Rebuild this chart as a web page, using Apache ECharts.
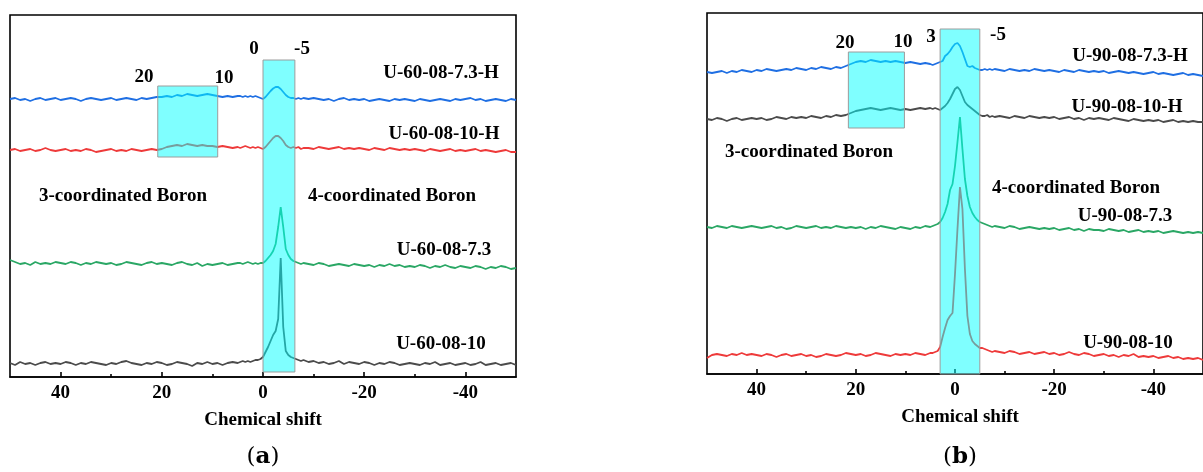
<!DOCTYPE html>
<html>
<head>
<meta charset="utf-8">
<script src="https://cdn.jsdelivr.net/npm/echarts@6/dist/echarts.min.js"></script>
<style>
html,body{margin:0;padding:0;background:#fff;}
#chart{width:1203px;height:472px;}
</style>
</head>
<body>
<div id="chart"></div>
<script>
// Chemical shift (ppm) sample positions, shared by all spectra
const shifts = [
  50,49,48,47,46,45,44,43,42,41,
  40,39,38,37,36,35,34,33,32,31,
  30,29,28,27,26,25,24,23,22,21,
  20,19,18,17,16,15,14,13,12,11,
  10,9,8,7,6,5,
  4.5,4,3.5,3,2.5,2,1.5,1,0.5,0,
  -0.5,-1,-1.5,-2,-2.5,-3,-3.5,-4,-4.5,-5,
  -5.5,-6,-6.5,-7,-7.5,-8,
  -9,-10,-11,-12,-13,-14,-15,-16,-17,-18,
  -19,-20,-21,-22,-23,-24,-25,-26,-27,-28,
  -29,-30,-31,-32,-33,-34,-35,-36,-37,-38,
  -39,-40,-41,-42,-43,-44,-45,-46,-47,-48,-49,-50
];

// Panel (a) spectra (stacked intensity, arbitrary units)
const a_U60_08_73_H = [
  278,279,277,278,276,278,279,277,278,279,
  277,278,279,278,276,278,279,278,277,278,
  279,277,278,279,278,277,279,278,279,280,
  280,281,280,282,281,283,282,281,282,283,
  282,281,280,281,280,281,
  281,280,281,280,281,280,281,280,279,278,
  280,283,286,288.5,290,290,288,285,282,280,
  279,279,278,279,278,279,
  278,279,278,277,278,276,278,279,277,278,
  277,278,276,277,278,277,276,278,277,278,
  277,276,278,277,276,277,278,277,276,278,
  277,278,279,277,278,276,277,278,277,276,278,277
];
const a_U60_08_10_H = [
  227,228,226,227,228,226,227,229,227,226,
  227,228,226,227,226,228,227,225,226,227,
  228,226,227,226,228,227,226,227,228,227,
  228,230,231,232,231,233,232,231,232,231,
  231,230,231,230,229,230,
  229,230,231,230,229,230,229,230,229,228,
  230,233,236,239,241,241,239,236,232,230,
  229,230,229,230,228,229,
  229,228,230,229,228,229,230,228,229,228,
  229,228,227,229,228,227,229,228,227,228,
  227,228,227,226,228,227,226,227,228,226,
  227,226,227,228,226,227,226,225,226,227,225,225
];
const a_U60_08_73 = [
  117,115,113,114,112,115,113,114,113,115,
  114,113,115,114,112,114,113,115,114,113,
  114,112,113,115,114,113,112,114,115,113,
  114,113,112,114,115,113,112,114,111,113,
  112,113,114,112,113,114,
  114,113,114,115,114,113,114,113,114,114,
  116,119,122,126,133,150,170,150,128,122,
  118,116,115,114,113,114,
  113,112,114,113,111,112,113,112,111,113,
  112,111,112,110,112,111,113,111,112,110,
  111,110,112,111,109,111,110,112,110,109,
  111,110,109,111,110,108,110,109,111,110,108,109
];
const a_U60_08_10 = [
  14,12,15,13,14,12,14,15,13,14,
  13,15,14,12,14,13,15,14,13,12,
  14,13,15,16,14,13,12,14,13,15,
  14,12,13,15,14,13,11,14,13,15,
  13,14,12,14,15,14,
  15,16,15,16,15,16,17,17,18,20,
  25,30,36,42,46,58,119,50,26,22,
  20,19,18,17,16,17,
  15,16,14,15,13,14,16,13,15,14,
  13,15,14,12,14,13,15,14,12,13,
  14,13,12,14,13,15,12,13,14,12,
  13,14,12,13,15,12,13,14,12,13,14,12
];

// Panel (b) spectra
const b_U90_08_73_H = [
  302,301,302,303,301,303,302,304,303,302,
  304,303,305,304,303,304,305,304,306,305,
  304,306,305,307,306,305,307,306,308,310,
  312,313,312,314,313,312,313,312,313,312,
  311,312,311,310,311,310,
  309,310,311,312,313,318,320,323,327,330,
  331,328,322,315,308,307,308,306,305,304,
  304,305,304,305,304,305,
  304,303,305,304,303,304,303,305,304,303,
  304,303,302,304,303,302,304,303,302,303,
  302,303,301,302,303,302,301,302,301,300,
  301,302,300,301,300,299,300,301,299,300,299,298
];
const b_U90_08_10_H = [
  255,254,256,255,253,255,256,254,255,256,
  255,256,254,255,257,256,255,257,256,257,
  256,258,257,256,258,257,259,258,259,261,
  263,264,265,266,265,264,265,266,265,264,
  265,264,265,266,265,266,
  265,266,265,264,266,268,271,275,280,285,
  287,284,278,272,269,267,265,263,261,259,
  258,258,259,257,258,257,
  258,257,256,258,257,256,258,257,256,257,
  256,257,255,256,257,255,256,254,256,255,
  256,255,254,256,255,254,253,255,254,253,
  254,253,254,252,253,254,252,253,252,253,252,252
];
const b_U90_08_73 = [
  147,146,148,147,146,148,147,146,147,148,
  147,146,147,148,146,147,145,146,148,147,
  146,147,148,146,147,146,148,147,146,147,
  146,147,145,147,146,148,147,146,145,147,
  146,145,147,146,148,147,
  148,149,150,152,156,162,170,184,190,208,
  232,257,225,195,178,167,161,157,154,152,
  151,150,149,148,147,148,
  147,146,148,147,145,146,147,146,145,146,
  145,146,144,145,146,144,145,143,145,144,
  144,143,145,144,143,144,142,143,144,142,
  143,142,143,141,142,143,142,141,142,141,142,141
];
const b_U90_08_10 = [
  16,19,20,19,18,20,19,21,19,20,
  19,18,20,19,17,19,20,18,19,20,
  18,19,17,18,20,19,18,19,21,20,
  19,20,18,19,21,20,19,18,20,19,
  20,19,21,20,19,21,
  21,22,23,27,37,46,54,58,61,100,
  145,187,165,105,58,40,33,30,28,26,
  26,25,24,23,22,23,
  22,21,23,22,20,21,22,20,21,22,
  20,21,19,20,22,20,19,21,20,18,
  19,20,18,19,17,19,18,20,17,18,
  17,18,16,17,18,16,17,15,16,15,16,14
];

// Highlight boxes: [shiftFrom, shiftTo, intensityLow, intensityHigh]
const boxesA = [[20.8, 8.95, 220, 291], [0, -6.3, 5, 317]];
const boxesB = [[21.5, 10.2, 246, 322], [3, -5, 0, 345]];

const majorTicks = [-40, -20, 0, 20, 40];
const minorTicks = [-30, -10, 10, 30];

const COLORS = { blue: '#1f6fe3', red: '#ee3a3a', green: '#2aa765', gray: '#4b4b4b' };
const SERIF = '"Liberation Serif", "Times New Roman", serif';

function pairs(vals) { return shifts.map((x, i) => [x, vals[i]]); }

function lineSeries(name, vals, color, axisIdx) {
  return {
    name, type: 'line', xAxisIndex: axisIdx, yAxisIndex: axisIdx / 2,
    data: pairs(vals), showSymbol: false, symbol: 'none', z: 2,
    lineStyle: { color, width: 1.8 }, animation: false
  };
}
function boxSeries(boxes, axisIdx) {
  return {
    type: 'custom', xAxisIndex: axisIdx, yAxisIndex: axisIdx / 2, z: 5,
    data: boxes, encode: { x: [0, 1], y: [2, 3] }, animation: false, silent: true,
    renderItem(params, api) {
      const p1 = api.coord([api.value(0), api.value(2)]);
      const p2 = api.coord([api.value(1), api.value(3)]);
      return {
        type: 'rect',
        shape: { x: Math.min(p1[0], p2[0]), y: Math.min(p1[1], p2[1]),
                 width: Math.abs(p2[0] - p1[0]), height: Math.abs(p2[1] - p1[1]) },
        style: { fill: 'rgba(0,255,255,0.5)', stroke: '#9c9c9c', lineWidth: 1 }
      };
    }
  };
}
function mainX(grid) {
  return {
    gridIndex: grid, type: 'value', min: -50, max: 50, inverse: true, position: 'bottom',
    axisLine: { show: true, lineStyle: { color: '#000', width: 1.6 } },
    axisTick: { show: true, inside: true, length: 5, customValues: majorTicks, lineStyle: { color: '#000', width: 1.6 } },
    axisLabel: { show: true, customValues: majorTicks, margin: 7, color: '#000',
                 fontFamily: SERIF, fontWeight: 'bold', fontSize: 19 },
    splitLine: { show: false }
  };
}
function minorX(grid) {
  return {
    gridIndex: grid, type: 'value', min: -50, max: 50, inverse: true, position: 'bottom',
    axisLine: { show: false },
    axisTick: { show: true, inside: true, length: 3, customValues: minorTicks, lineStyle: { color: '#000', width: 1.6 } },
    axisLabel: { show: false }, splitLine: { show: false }
  };
}
function hiddenY(grid, max) {
  return { gridIndex: grid, type: 'value', min: 0, max, show: false, splitLine: { show: false } };
}

function txt(text, x, y, size, family, weight) {
  return { type: 'text', z: 100, style: {
    text, x, y, align: 'center', verticalAlign: 'middle', fill: '#000',
    font: (weight || 'bold') + ' ' + (size || 19) + 'px ' + (family || SERIF) } };
}
function caption(letter, x, y) {
  return { type: 'text', z: 100, style: { text: '({b|' + letter + '})', x, y, align: 'center', verticalAlign: 'middle',
    fill: '#000', font: '23px "DejaVu Serif", serif',
    rich: { b: { fontWeight: 'bold', fontSize: 23, fontFamily: '"DejaVu Serif", serif' } } } };
}

const chart = echarts.init(document.getElementById('chart'), null, { renderer: 'canvas' });
chart.setOption({
  backgroundColor: '#fff',
  animation: false,
  grid: [
    { left: 10, top: 15, width: 506, height: 362, show: true, borderColor: '#000', borderWidth: 1.6, backgroundColor: 'transparent' },
    { left: 707, top: 13, width: 505, height: 361, show: true, borderColor: '#000', borderWidth: 1.6, backgroundColor: 'transparent' }
  ],
  xAxis: [mainX(0), minorX(0), mainX(1), minorX(1)],
  yAxis: [hiddenY(0, 362), hiddenY(1, 361)],
  series: [
    lineSeries('U-60-08-7.3-H', a_U60_08_73_H, COLORS.blue, 0),
    lineSeries('U-60-08-10-H', a_U60_08_10_H, COLORS.red, 0),
    lineSeries('U-60-08-7.3', a_U60_08_73, COLORS.green, 0),
    lineSeries('U-60-08-10', a_U60_08_10, COLORS.gray, 0),
    boxSeries(boxesA, 0),
    lineSeries('U-90-08-7.3-H', b_U90_08_73_H, COLORS.blue, 2),
    lineSeries('U-90-08-10-H', b_U90_08_10_H, COLORS.gray, 2),
    lineSeries('U-90-08-7.3', b_U90_08_73, COLORS.green, 2),
    lineSeries('U-90-08-10', b_U90_08_10, COLORS.red, 2),
    boxSeries(boxesB, 2)
  ],
  graphic: [
    // panel (a)
    txt('0', 254, 49), txt('-5', 302, 49), txt('20', 144, 77), txt('10', 224, 78),
    txt('U-60-08-7.3-H', 441, 73), txt('U-60-08-10-H', 444, 134),
    txt('3-coordinated Boron', 123, 196), txt('4-coordinated Boron', 392, 196),
    txt('U-60-08-7.3', 444, 250), txt('U-60-08-10', 441, 344),
    txt('Chemical shift', 263, 420),
    caption('a', 263, 457),
    // panel (b)
    txt('20', 845, 43), txt('10', 903, 42), txt('3', 931, 37), txt('-5', 998, 35),
    txt('U-90-08-7.3-H', 1130, 56), txt('U-90-08-10-H', 1127, 107),
    txt('3-coordinated Boron', 809, 152), txt('4-coordinated Boron', 1076, 188),
    txt('U-90-08-7.3', 1125, 216), txt('U-90-08-10', 1128, 343),
    txt('Chemical shift', 960, 417),
    caption('b', 960, 457)
  ]
});
</script>
</body>
</html>
